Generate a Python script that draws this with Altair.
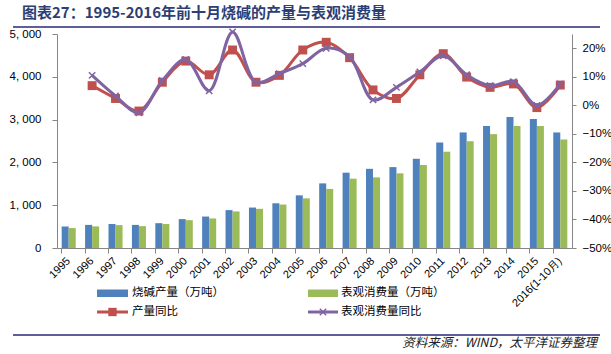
import altair as alt
import pandas as pd

years = ["1995", "1996", "1997", "1998", "1999", "2000", "2001", "2002", "2003", "2004",
         "2005", "2006", "2007", "2008", "2009", "2010", "2011", "2012", "2013", "2014",
         "2015", "2016(1-10月)"]
prod = [500, 540, 560, 540, 580, 675, 735, 885, 945, 1045, 1230, 1510, 1760, 1850, 1890,
        2085, 2465, 2700, 2850, 3060, 3015, 2700]
cons = [465, 505, 535, 510, 560, 650, 690, 855, 915, 1015, 1160, 1380, 1620, 1650, 1745,
        1940, 2250, 2495, 2660, 2850, 2850, 2535]
prod_yoy = [None, 6.9, 2.4, -2.0, 8.1, 15.5, 10.7, 19.4, 8.1, 10.5, 19.4, 22.1, 16.7, 5.4,
            2.4, 10.7, 18.1, 9.9, 6.3, 7.5, -0.8, 7.1]
cons_yoy = [None, 10.5, 3.3, -2.6, 8.7, 16.1, 5.1, 25.7, 8.1, 11.1, 14.6, 20.0, 17.0, 1.9,
            6.3, 11.7, 17.4, 10.7, 6.9, 8.3, 0.0, 7.5]

s_prod = "烧碱产量（万吨）"
s_cons = "表观消费量（万吨）"
s_prod_yoy = "产量同比"
s_cons_yoy = "表观消费量同比"
title_text = "图表27：1995-2016年前十月烧碱的产量与表观消费量"
source_text = "资料来源：WIND，太平洋证券整理"

BLUE = "#4F81BD"
GREEN = "#9BBB59"
RED = "#C0504D"
PURPLE = "#8064A2"
AXIS_GRAY = "#868686"
NAVY = "#2C3E73"
RULE = "#5E5E9A"
CJK = "Noto Sans CJK SC"
LAT = "Liberation Sans"

bar_df = pd.DataFrame({
    "year": years * 2,
    "series": [s_prod] * len(years) + [s_cons] * len(years),
    "value": prod + cons,
})
red_df = pd.DataFrame({"year": years, "pct": prod_yoy}).dropna()
pur_df = pd.DataFrame({"year": years, "pct": cons_yoy}).dropna()

x_scale = alt.Scale(paddingInner=0.4, paddingOuter=0.2)
x_axis = alt.Axis(
    title=None, labelAngle=-45, labelAlign="right", labelBaseline="middle",
    labelFont=LAT, labelFontSize=11, labelColor="#000000", labelPadding=6,
    domainColor=AXIS_GRAY, tickColor=AXIS_GRAY, tickSize=5, bandPosition=0,
    labelOverlap=False,
)
x_enc = alt.X("year:N", sort=years, scale=x_scale, axis=x_axis)

bars = alt.Chart(bar_df).mark_bar().encode(
    x=x_enc,
    xOffset=alt.XOffset("series:N", sort=[s_prod, s_cons],
                        scale=alt.Scale(paddingInner=0, paddingOuter=0)),
    y=alt.Y("value:Q", scale=alt.Scale(domain=[0, 5000], nice=False),
            axis=alt.Axis(title=None, orient="left", values=[0, 1000, 2000, 3000, 4000, 5000],
                          labelExpr="replace(format(datum.value, ','), ',', ', ')",
                          labelFont=LAT, labelFontSize=11.5, labelColor="#000000",
                          labelPadding=11, grid=False, domainColor=AXIS_GRAY,
                          tickColor=AXIS_GRAY, tickSize=5)),
    color=alt.Color("series:N", scale=alt.Scale(domain=[s_prod, s_cons], range=[BLUE, GREEN]),
                    legend=None),
)

pct_axis = alt.Axis(title=None, orient="right",
                    values=[-50, -40, -30, -20, -10, 0, 10, 20],
                    labelExpr="replace(datum.value + '%', '-', '−')",
                    labelFont=LAT, labelFontSize=11.5, labelColor="#000000",
                    labelPadding=6, grid=False, domainColor=AXIS_GRAY,
                    tickColor=AXIS_GRAY, tickSize=4)
y_pct = alt.Y("pct:Q", scale=alt.Scale(domain=[-50, 25], nice=False), axis=pct_axis)

cross_path = "M-1,-1L1,1M-1,1L1,-1"

red_line = alt.Chart(red_df).mark_line(interpolate="catmull-rom", strokeWidth=3, color=RED).encode(
    x=x_enc, y=y_pct)
red_pts = alt.Chart(red_df).mark_point(shape="square", filled=True, size=80, color=RED, opacity=1).encode(
    x=x_enc, y=y_pct)
pur_line = alt.Chart(pur_df).mark_line(interpolate="catmull-rom", strokeWidth=3, color=PURPLE).encode(
    x=x_enc, y=y_pct)
pur_pts = alt.Chart(pur_df).mark_point(shape=cross_path, filled=False, size=40, color=PURPLE,
                                       strokeWidth=1.5, opacity=1).encode(
    x=x_enc, y=y_pct)

lines = alt.layer(red_line, red_pts, pur_line, pur_pts)

one = pd.DataFrame({"k": [0]})


def txt(text, x, y, size, color="#000000", font=CJK, align="left", weight="normal", style="normal"):
    return alt.Chart(one).mark_text(text=text, align=align, baseline="middle", fontSize=size,
                                    color=color, font=font, fontWeight=weight,
                                    fontStyle=style).encode(x=alt.value(x), y=alt.value(y))


def hrule(x1, x2, y, color, width):
    return alt.Chart(one).mark_rule(color=color, strokeWidth=width).encode(
        x=alt.value(x1), x2=alt.value(x2), y=alt.value(y))


def swatch(x1, x2, y1, y2, color):
    return alt.Chart(one).mark_rect(color=color).encode(
        x=alt.value(x1), x2=alt.value(x2), y=alt.value(y1), y2=alt.value(y2))


def marker(x, y, shape, color, size, filled, sw=1.5):
    return alt.Chart(one).mark_point(shape=shape, filled=filled, size=size, color=color,
                                     opacity=1, strokeWidth=sw).encode(
        x=alt.value(x), y=alt.value(y))


deco = [
    txt(title_text, -35, -21.5, 15, color=NAVY, weight="bold"),
    hrule(-44, 543, -7, RULE, 2),
    hrule(-44, 543, 301, RULE, 2),
    txt(source_text, 540, 309, 12.5, color="#222222", align="right", style="italic"),
    # legend
    swatch(40, 71, 255.5, 263, BLUE),
    txt(s_prod, 75, 259, 11.5),
    swatch(251, 281, 255.5, 263, GREEN),
    txt(s_cons, 284, 259, 11.5),
    hrule(40, 71, 278, RED, 3),
    marker(55.5, 278, "square", RED, 70, True),
    txt(s_prod_yoy, 75, 278, 11.5),
    hrule(251, 281, 278, PURPLE, 3),
    marker(266, 278, cross_path, PURPLE, 40, False),
    txt(s_cons_yoy, 284, 278, 11.5),
]

chart = alt.layer(bars, lines, *deco).resolve_scale(y="independent").properties(
    width=515, height=214,
    autosize=alt.AutoSizeParams(type="none"),
    padding={"left": 57, "top": 34, "right": 39, "bottom": 106},
    background="white",
).configure_view(stroke=None)

chart.save("out.html", embed_options={"renderer": "svg", "actions": False})
